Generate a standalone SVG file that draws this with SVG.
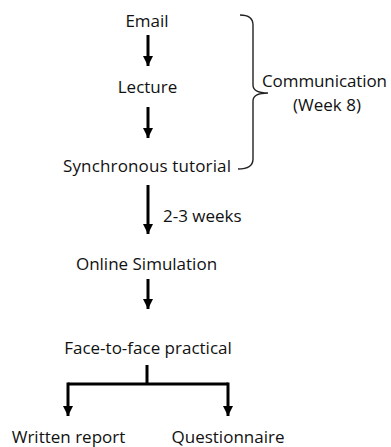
<svg xmlns="http://www.w3.org/2000/svg" width="391" height="447" viewBox="0 0 391 447">
<style>
text{font-family:"Open Sans","Liberation Sans",sans-serif;font-size:17px;fill:#111}
.c{text-anchor:middle}
.ln{stroke:#000;stroke-width:3;fill:none}
.br{stroke:#222;stroke-width:1.4;fill:none}
</style>
<defs>
<marker id="a" markerUnits="userSpaceOnUse" markerWidth="12" markerHeight="10" refX="10" refY="5" orient="auto" viewBox="0 0 12 10">
<path d="M0,0 L10,5 L0,10 Z" fill="#000"/>
</marker>
</defs>
<rect width="391" height="447" fill="#fff"/>
<g id="connectors">
<line class="ln" x1="148" y1="35" x2="148" y2="66" marker-end="url(#a)"/>
<line class="ln" x1="148" y1="107" x2="148" y2="138" marker-end="url(#a)"/>
<line class="ln" x1="148" y1="185" x2="148" y2="234" marker-end="url(#a)"/>
<line class="ln" x1="148" y1="279" x2="148" y2="309" marker-end="url(#a)"/>
<path class="ln" d="M147,365 V384 M68,384 H228"/>
<line class="ln" x1="68" y1="382.5" x2="68" y2="416" marker-end="url(#a)"/>
<line class="ln" x1="228" y1="382.5" x2="228" y2="416" marker-end="url(#a)"/>
<text x="163" y="222">2-3 weeks</text>
</g>
<g id="brace">
<path class="br" d="M240,15 Q253,15 253,25 L253,85 Q253,93 268,93 Q253,93 253,101 L253,159 Q253,169 238,169"/>
<text class="c" x="324.5" y="87" textLength="125">Communication</text>
<text class="c" x="327" y="111">(Week 8)</text>
</g>
<g id="email"><text class="c" x="147" y="27">Email</text></g>
<g id="lecture"><text class="c" x="147.5" y="93">Lecture</text></g>
<g id="tutorial"><text class="c" x="147" y="172" textLength="168">Synchronous tutorial</text></g>
<g id="simulation"><text class="c" x="146.5" y="270">Online Simulation</text></g>
<g id="practical"><text class="c" x="148" y="354">Face-to-face practical</text></g>
<g id="report"><text class="c" x="68.5" y="443">Written report</text></g>
<g id="questionnaire"><text class="c" x="228" y="443">Questionnaire</text></g>
</svg>
